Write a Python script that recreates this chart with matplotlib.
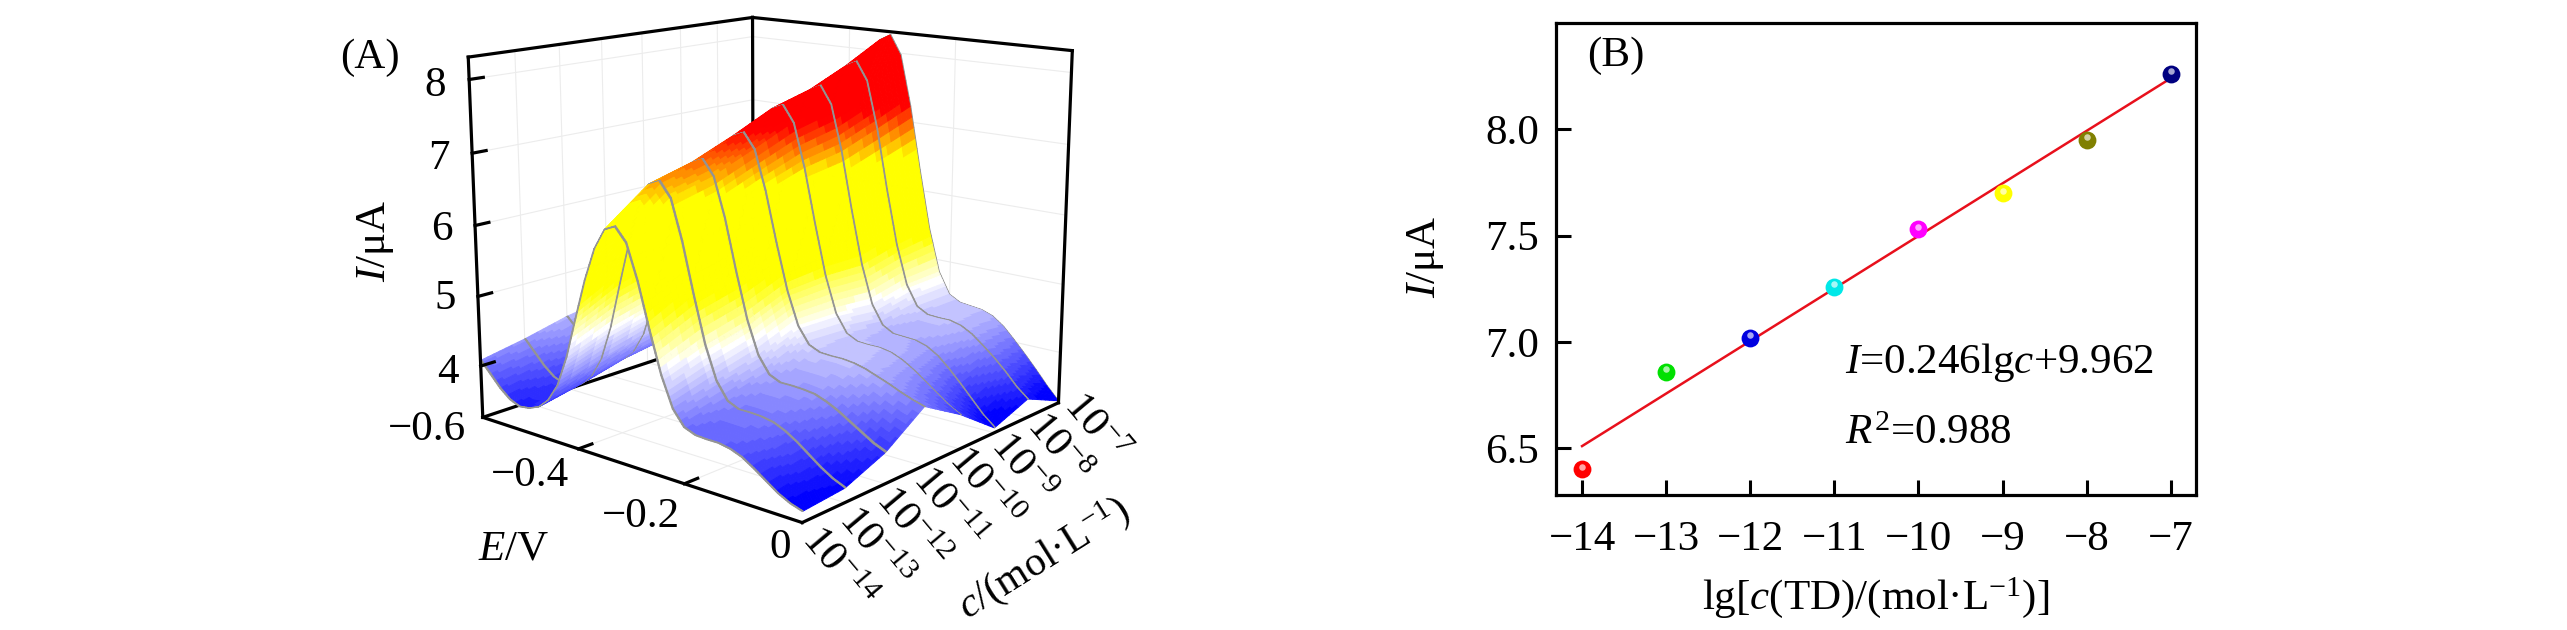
import numpy as np
import matplotlib
matplotlib.use('Agg')
import matplotlib.pyplot as plt
from matplotlib.colors import LinearSegmentedColormap

plt.rcParams['font.family'] = ['Liberation Serif', 'DejaVu Sans']
plt.rcParams['mathtext.fontset'] = 'custom'
plt.rcParams['mathtext.rm'] = 'Liberation Serif'
plt.rcParams['mathtext.it'] = 'Liberation Serif:italic'

WIDTH, HEIGHT = 2567, 630

# Panel A data: one voltammogram per concentration
potential = [-0.60 + 0.02 * i for i in range(31)]
curve_14 = [4.08, 3.92, 3.76, 3.64, 3.58, 3.60, 3.66, 3.80, 4.05, 4.48, 5.05, 5.60, 6.05, 6.33, 6.40, 6.22, 5.75, 5.15, 4.60, 4.20, 4.00, 3.94, 3.93, 3.93, 3.90, 3.84, 3.74, 3.63, 3.52, 3.44, 3.39]
curve_13 = [4.20, 4.04, 3.88, 3.76, 3.70, 3.72, 3.79, 3.95, 4.23, 4.71, 5.35, 5.96, 6.48, 6.79, 6.86, 6.66, 6.12, 5.44, 4.81, 4.36, 4.13, 4.06, 4.06, 4.05, 4.02, 3.95, 3.85, 3.73, 3.61, 3.51, 3.44]
curve_12 = [4.35, 4.20, 4.05, 3.93, 3.86, 3.88, 3.95, 4.11, 4.39, 4.87, 5.51, 6.12, 6.64, 6.95, 7.02, 6.81, 6.28, 5.59, 4.96, 4.51, 4.28, 4.21, 4.21, 4.20, 4.18, 4.12, 4.04, 3.94, 3.84, 3.74, 3.67]
curve_11 = [4.45, 4.30, 4.15, 4.03, 3.96, 3.98, 4.05, 4.22, 4.51, 5.01, 5.68, 6.32, 6.86, 7.19, 7.26, 7.05, 6.51, 5.82, 5.19, 4.73, 4.50, 4.43, 4.42, 4.42, 4.40, 4.36, 4.30, 4.24, 4.17, 4.11, 4.06]
curve_10 = [4.50, 4.35, 4.20, 4.08, 4.01, 4.03, 4.11, 4.28, 4.60, 5.13, 5.84, 6.53, 7.10, 7.46, 7.53, 7.30, 6.70, 5.94, 5.23, 4.72, 4.47, 4.39, 4.38, 4.38, 4.35, 4.28, 4.18, 4.06, 3.94, 3.82, 3.73]
curve_9 = [4.50, 4.35, 4.20, 4.08, 4.02, 4.05, 4.12, 4.31, 4.63, 5.19, 5.94, 6.65, 7.25, 7.62, 7.70, 7.45, 6.81, 5.98, 5.22, 4.67, 4.40, 4.31, 4.30, 4.29, 4.24, 4.14, 3.99, 3.82, 3.64, 3.46, 3.32]
curve_8 = [4.55, 4.40, 4.25, 4.12, 4.06, 4.09, 4.17, 4.36, 4.71, 5.30, 6.09, 6.85, 7.48, 7.87, 7.95, 7.69, 7.02, 6.15, 5.36, 4.79, 4.50, 4.41, 4.40, 4.40, 4.36, 4.27, 4.14, 4.00, 3.84, 3.66, 3.52]
curve_7 = [4.60, 4.45, 4.30, 4.16, 4.10, 4.13, 4.22, 4.42, 4.79, 5.43, 6.27, 7.08, 7.76, 8.17, 8.26, 7.98, 7.24, 6.31, 5.45, 4.82, 4.51, 4.42, 4.40, 4.38, 4.32, 4.20, 4.03, 3.85, 3.66, 3.46, 3.28]
conc_exponents = [-14, -13, -12, -11, -10, -9, -8, -7]
z_ticks = [4, 5, 6, 7, 8]
e_ticks = [-0.4, -0.2]

# Panel B data
lg_c = [-14, -13, -12, -11, -10, -9, -8, -7]
current = [6.40, 6.86, 7.02, 7.26, 7.53, 7.70, 7.95, 8.26]
point_colors = ['#ff0000', '#00e000', '#0000e0', '#00e8e8', '#ff00ff', '#ffff00', '#808000', '#000080']
fit_x = [-14, -7]
fit_y = [6.51, 8.24]
b_xticks = [-14, -13, -12, -11, -10, -9, -8, -7]
b_yticks = [6.5, 7.0, 7.5, 8.0]


def px(x, y):
    return x / WIDTH, 1 - y / HEIGHT


fig = plt.figure(figsize=(WIDTH / 100, HEIGHT / 100), dpi=100, facecolor='white')

# ---- Panel A ----
ZMIN, ZMAX = 3.25, 8.3
# camera and position fitted to the box corners in the reference
ax = fig.add_axes([427.3 / WIDTH, 47.1 / HEIGHT, 675.2 / WIDTH, 675.2 / HEIGHT], projection='3d', computed_zorder=False)
ax.set_xlim(-0.6, 0, view_margin=0)
ax.set_ylim(0, 7, view_margin=0)
ax.set_zlim(ZMIN, ZMAX, view_margin=0)
ax.set_axis_off()
ax.patch.set_alpha(0)
ax.view_init(elev=13.759, azim=-49.556)
ax.set_proj_type('persp', focal_length=0.496)
ax.set_box_aspect((1, 0.994, 0.874))

curves = np.array([curve_14, curve_13, curve_12, curve_11, curve_10, curve_9, curve_8, curve_7])
cmap = LinearSegmentedColormap.from_list('bwyr', [(0, '#0000ff'), (0.27, '#ffffff'), (0.406, '#ffff00'), (0.667, '#ffff00'), (0.81, '#ff0000'), (1, '#ff0000')], N=64)
e_fine = np.linspace(-0.6, 0, 181)
# finer mesh for the colour bands, thin grey strips on each measured curve
strip_w = 0.024
c_nodes = []
for i in range(8):
    if i > 0:
        c_nodes.append(i - strip_w)
    c_nodes.append(i)
    if i < 7:
        c_nodes.append(i + strip_w)
        c_nodes += list(np.linspace(i + strip_w, i + 1 - strip_w, 8))[1:-1]
c_nodes = np.array(c_nodes)
by_e = np.array([np.interp(e_fine, potential, row) for row in curves])
Z = np.array([[np.interp(c, np.arange(8), by_e[:, j]) for j in range(len(e_fine))] for c in c_nodes])
EE, CC = np.meshgrid(e_fine, c_nodes)
zc = (Z[:-1, :-1] + Z[1:, :-1] + Z[:-1, 1:] + Z[1:, 1:]) / 4
fc = cmap((zc - 3.4) / 4.8)
cc = (c_nodes[:-1] + c_nodes[1:]) / 2
on_line = np.abs(cc - np.round(cc)) < strip_w
fc[on_line, :] = (0.58, 0.58, 0.58, 1)


def seg(p, q, color='k', lw=2.3, z=1):
    ax.plot([p[0], q[0]], [p[1], q[1]], [p[2], q[2]], color=color, lw=lw, zorder=z, solid_capstyle='projecting')


# faint grid on the walls and floor
for zt in z_ticks:
    seg((-0.6, 0, zt), (-0.6, 7, zt), '#ececec', 0.8)
    seg((-0.6, 7, zt), (0, 7, zt), '#ececec', 0.8)
for i in conc_exponents:
    c = i + 14
    seg((-0.6, c, ZMIN), (-0.6, c, ZMAX), '#ececec', 0.8)
    seg((-0.6, c, ZMIN), (0, c, ZMIN), '#ececec', 0.8)
for et in e_ticks:
    seg((et, 7, ZMIN), (et, 7, ZMAX), '#ececec', 0.8)
    seg((et, 0, ZMIN), (et, 7, ZMIN), '#ececec', 0.8)

# box
seg((-0.6, 7, ZMIN), (-0.6, 7, ZMAX))
seg((-0.6, 0, ZMIN), (-0.6, 7, ZMIN))

ax.plot_surface(EE, CC, Z, facecolors=fc, rstride=1, cstride=1, shade=False, linewidth=0.7, antialiased=True, zorder=3)

seg((-0.6, 0, ZMIN), (-0.6, 0, ZMAX), z=5)
seg((0, 7, ZMIN), (0, 7, ZMAX), z=5)
seg((-0.6, 0, ZMAX), (-0.6, 7, ZMAX), z=5)
seg((-0.6, 7, ZMAX), (0, 7, ZMAX), z=5)
seg((-0.6, 0, ZMIN), (0, 0, ZMIN), z=5)
seg((0, 0, ZMIN), (0, 7, ZMIN), z=5)
for zt in z_ticks:
    seg((-0.6, 0, zt), (-0.6, 0.3, zt), z=5)
for et in e_ticks:
    seg((et, 0, ZMIN), (et, 0.3, ZMIN), z=5)

FS = 31
fig.text(*px(370, 58), '(A)', fontsize=FS, ha='center', va='center')
for val, (x, y) in zip(z_ticks, [(448, 373), (445, 299), (442, 230), (439, 159), (435, 86)]):
    fig.text(*px(x, y), str(val), fontsize=FS, ha='center', va='center')
for lab, (x, y) in zip(['\u22120.6', '\u22120.4', '\u22120.2', '0'], [(427, 430), (530, 476), (641, 517), (780, 548)]):
    fig.text(*px(x, y), lab, fontsize=FS, ha='center', va='center')
fig.text(*px(514, 549), r'$\mathit{E}$/V', fontsize=FS, ha='center', va='center')
fig.text(*px(375, 241), r'$\mathit{I}$/μA', fontsize=FS, ha='center', va='center', rotation=90)
for i, ex in enumerate(conc_exponents):
    x = 838 + i * (1095 - 838) / 7
    y = 568 + i * (428 - 568) / 7
    fig.text(*px(x, y), '$10^{-%d}$' % abs(ex), fontsize=FS, ha='center', va='center', rotation=-50, rotation_mode='anchor')
fig.text(*px(1043, 558), r'$\mathit{c}$/(mol·L$^{-1}$)', fontsize=30, ha='center', va='center', rotation=32, rotation_mode='anchor')

# ---- Panel B ----
left, right, top, bottom = 1556, 2196, 23, 495
bx = fig.add_axes([left / WIDTH, 1 - bottom / HEIGHT, (right - left) / WIDTH, (bottom - top) / HEIGHT])
bx.plot(fit_x, fit_y, color='#e8101c', lw=1.8, zorder=2)
for x, y, col in zip(lg_c, current, point_colors):
    bx.scatter([x], [y], s=165, color=col, linewidths=0, zorder=3)
    bx.scatter([x], [y + 0.012], s=22, color='white', alpha=0.65, linewidths=0, zorder=4)
bx.set_xlim(-14.31, -6.70)
bx.set_ylim(6.28, 8.5)
bx.set_xticks(b_xticks, ['\u2212%d' % abs(v) for v in b_xticks])
bx.set_yticks(b_yticks, ['%.1f' % v for v in b_yticks])
bx.tick_params(direction='in', length=11, width=2.2, labelsize=FS)
bx.tick_params(axis='x', pad=18)
bx.tick_params(axis='y', pad=12)
for sp in bx.spines.values():
    sp.set_linewidth(2.3)
fig.text(*px(1616, 56), '(B)', fontsize=FS, ha='center', va='center')
fig.text(*px(1845, 363), r'$\mathit{I}$=0.246lg$\mathit{c}$+9.962', fontsize=FS, ha='left', va='center')
fig.text(*px(1845, 434), r'$\mathit{R}^{2}$=0.988', fontsize=FS, ha='left', va='center')
fig.text(*px(1876, 598), r'lg[$\mathit{c}$(TD)/(mol·L$^{-1}$)]', fontsize=FS, ha='center', va='center')
fig.text(*px(1426, 257), r'$\mathit{I}$/μA', fontsize=FS, ha='center', va='center', rotation=90)

fig.savefig('out.png', dpi=100)
